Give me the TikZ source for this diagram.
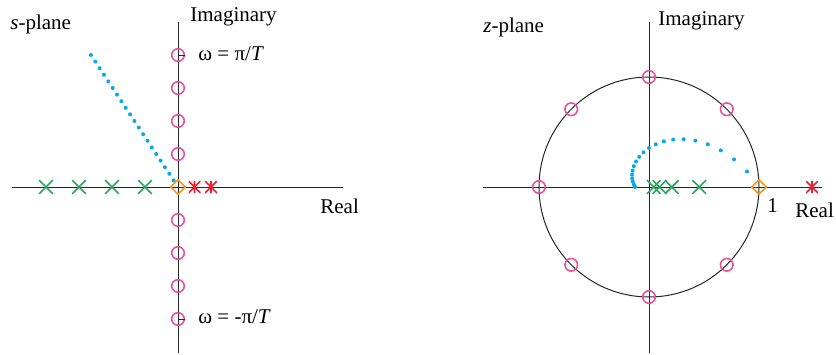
\documentclass[tikz,border=0pt]{standalone}
\usepackage{fontspec}
\setmainfont{Liberation Serif}
\usetikzlibrary{shapes.geometric,shapes.misc}
\definecolor{zeropink}{RGB}{232,85,155}
\definecolor{polegreen}{RGB}{40,165,95}
\definecolor{polered}{RGB}{235,30,45}
\definecolor{dcorange}{RGB}{245,150,30}
\definecolor{locusblue}{RGB}{0,170,235}

\begin{document}
\begin{tikzpicture}[
  x=0.5pt, y=-0.5pt,
  font=\fontsize{10.5}{12}\selectfont,
  axis/.style={draw=black!85, line width=0.5pt},
  zero/.style={circle, draw=zeropink, line width=0.8pt, minimum size=6.3pt, inner sep=0pt},
  pole/.style={cross out, draw=polegreen, line width=0.8pt, minimum size=6pt, inner sep=0pt},
  unstable/.style={rectangle, minimum size=6pt, inner sep=0pt,
    path picture={\draw[polered, line width=0.8pt]
      (path picture bounding box.north west) -- (path picture bounding box.south east)
      (path picture bounding box.north east) -- (path picture bounding box.south west)
      (path picture bounding box.north) -- (path picture bounding box.south);}},
  dc/.style={diamond, draw=dcorange, line width=0.8pt, minimum size=7.5pt, inner sep=0pt},
  locus/.style={fill=locusblue},
  lbl/.style={inner sep=0pt, anchor=base west}
]
\useasboundingbox (0,0) rectangle (836,354);

\coordinate (so) at (178,187);
\coordinate (sxl) at (12,187);
\coordinate (sxr) at (343,187);
\coordinate (syt) at (178,22);
\coordinate (syb) at (178,353);
\draw[axis] (sxl) -- (sxr);
\draw[axis] (syt) -- (syb);

\foreach \k in {1,...,4} {
  \node[zero] (zu\k) at (178,187-33*\k) {};
  \node[zero] (zd\k) at (178,187+33*\k) {};
  \node[pole] (sp\k) at (178-33*\k,187) {};
}
\draw[axis] (zu4.center) -- +(7,0);
\draw[axis] (zd4.center) -- +(7,0);
\node[unstable] (su1) at (194.5,187) {};
\node[unstable] (su2) at (211,187) {};

\foreach \i in {0,...,19} {
  \pgfmathsetmacro\u{4-0.2*\i}
  \fill[locus] (178-0.66*33*\u, 187-33*\u) circle (1pt);
}
\node[dc] (sdc) at (so) {};

\node[lbl] (splane) at (10,29) {\textit{s}-plane};
\node[lbl] (simag) at (190,21) {Imaginary};
\node[lbl] (sreal) at (320,213) {Real};
\node[lbl] (wtop) at (198,60) {ω = π/\textit{T}};
\node[lbl] (wbot) at (198,323) {ω = -π/\textit{T}};

\coordinate (zo) at (649,187);
\coordinate (zxl) at (483,187);
\coordinate (zxr) at (822,187);
\coordinate (zyt) at (649,22);
\coordinate (zyb) at (649,353);
\draw[axis] (zxl) -- (zxr);
\draw[axis] (zyt) -- (zyb);
\draw[axis] (zo) circle (55pt);

\foreach \a in {45,90,...,315}
  \node[zero] (zc\a) at ({649+110*cos(\a)},{187-110*sin(\a)}) {};
\foreach \k in {1,...,4}
  \node[pole] (zp\k) at ({649+110*exp(-0.7854*\k)},187) {};
\node[unstable] (zu) at (812,187) {};

\foreach \i in {0,...,19} {
  \pgfmathsetmacro\u{4-0.2*\i}
  \pgfmathsetmacro\r{110*exp(-0.5184*\u)}
  \fill[locus] ({649+\r*cos(45*\u)},{187-\r*sin(45*\u)}) circle (1pt);
}
\node[dc] (zdc) at (759,187) {};

\node[lbl] (zplane) at (483,32) {\textit{z}-plane};
\node[lbl] (zimag) at (658,25) {Imaginary};
\node[lbl] (zone) at (767,212) {1};
\node[lbl] (zreal) at (795,217) {Real};
\end{tikzpicture}
\end{document}
